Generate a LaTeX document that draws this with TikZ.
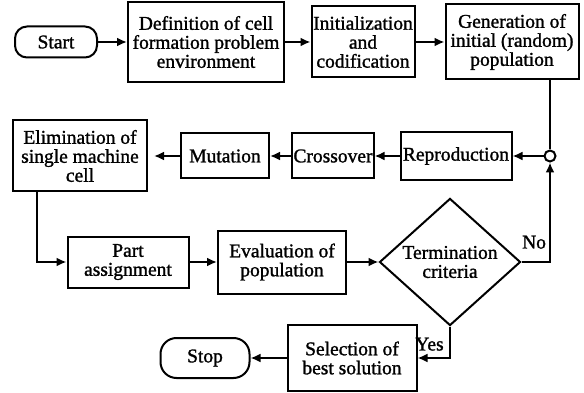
\documentclass[tikz,border=0pt]{standalone}
\usepackage{fontspec}
\setmainfont{Liberation Serif}[BoldFont={Liberation Serif}, BoldFeatures={FakeBold=1.3}]
\usepackage{tikz}
\usetikzlibrary{arrows.meta, shapes.geometric, positioning}

\tikzset{
	box/.style={shape=rectangle, draw=black, line width=2pt, align=center, inner sep=1pt},
	term/.style={shape=rectangle, rounded corners=12pt, draw=black, line width=2pt, align=center},
	arr/.style={line width=2pt, -{Latex[length=10pt, width=9pt]}},
	ln/.style={line width=2pt},
}

\begin{document}
\begin{tikzpicture}[x=1pt, y=-1pt, font=\fontsize{19.5}{19}\selectfont\bfseries]
	\useasboundingbox (0,0) rectangle (584,393);

	\node[term, minimum width=82pt, minimum height=31pt] (S) at (56, 42) {Start};
	\node[box, minimum width=156pt, minimum height=80pt] (D) at (206, 42) {Definition of cell\\formation problem\\environment};
	\node[box, minimum width=103pt, minimum height=71pt] (I) at (363, 42) {Initialization\\and\\codification};
	\node[box, minimum width=133pt, minimum height=75pt] (G) at (512, 42) {Generation of\\initial (random)\\population};

	\node[circle, draw=black, line width=2pt, minimum size=11pt, inner sep=0pt] (C) at (550, 156) {};

	\node[box, minimum width=111pt, minimum height=48pt] (R) at (456, 156) {Reproduction};
	\node[box, minimum width=80pt, minimum height=45pt] (X) at (333, 156) {Crossover};
	\node[box, minimum width=88pt, minimum height=45pt] (M) at (225, 156) {Mutation};
	\node[box, minimum width=134pt, minimum height=71pt] (E) at (80, 156) {Elimination of\\single machine\\cell};

	\node[box, minimum width=121pt, minimum height=51pt] (P) at (128, 262) {Part\\assignment};
	\node[box, minimum width=128pt, minimum height=63pt] (V) at (282, 262) {Evaluation of\\population};
	\node[diamond, draw=black, line width=2pt, minimum width=141pt, minimum height=119pt, inner sep=0pt, align=center] (T) at (450, 262) {Termination\\criteria};

	\node[box, minimum width=129pt, minimum height=66pt] (B) at (352, 358) {Selection of\\best solution};
	\node[term, minimum width=89pt, minimum height=40pt, rounded corners=16pt] (Q) at (205, 358) {Stop};

	% top row
	\draw[arr] (S) -- (D);
	\draw[arr] (D) -- (I);
	\draw[arr] (I) -- (G);

	% loop back
	\draw[ln] (G.south -| C) -- (C);
	\draw[arr] (C) -- (R);
	\draw[arr] (R) -- (X);
	\draw[arr] (X) -- (M);
	\draw[arr, shorten >=6pt] (M) -- (E);
	\draw[arr] ([xshift=-43pt]E.south) |- (P);
	\draw[arr] (P) -- (V);
	\draw[arr] (V) -- (T);

	\draw[arr] (T.east) -| node[pos=0.22, above=9pt] {No} (C.south);
	\draw[arr] (T.south) |- node[pos=0.28, left=2pt] {Yes} (B.east);
	\draw[arr] (B) -- (Q);
\end{tikzpicture}
\end{document}
